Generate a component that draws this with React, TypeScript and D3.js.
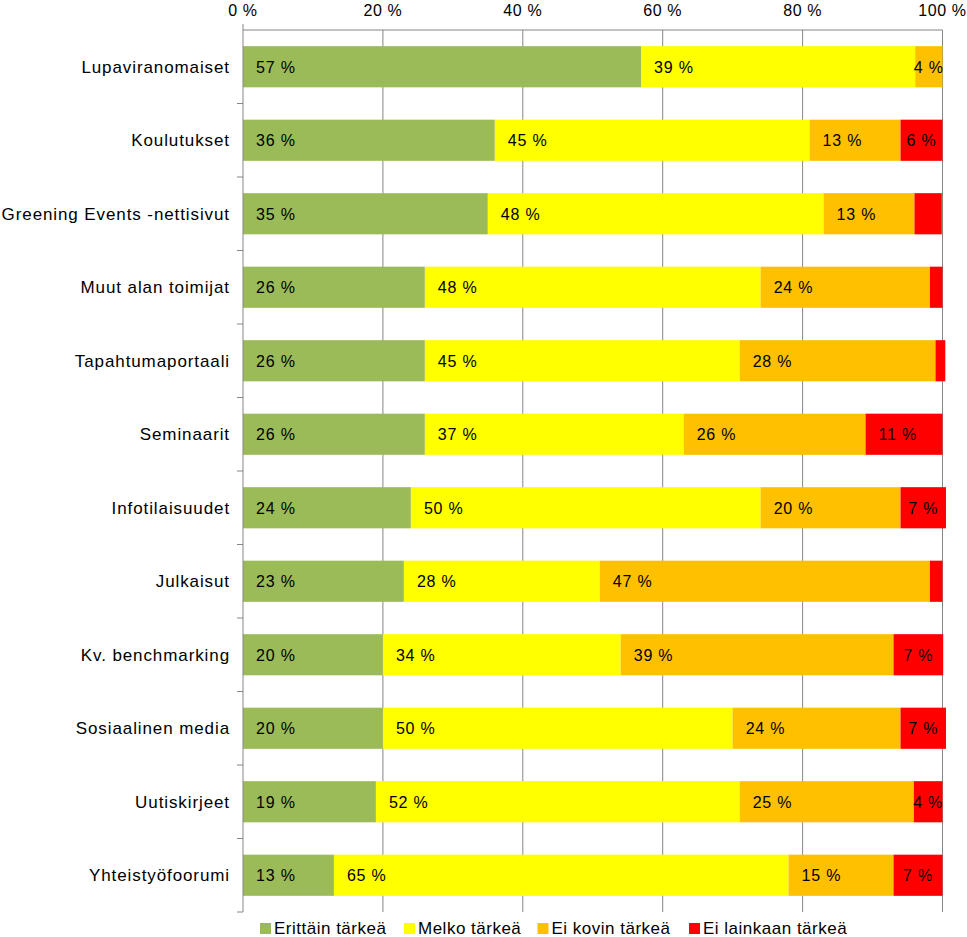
import React from "react";
import * as d3 from "d3";

const categories = [
  "Lupaviranomaiset",
  "Koulutukset",
  "Greening Events -nettisivut",
  "Muut alan toimijat",
  "Tapahtumaportaali",
  "Seminaarit",
  "Infotilaisuudet",
  "Julkaisut",
  "Kv. benchmarking",
  "Sosiaalinen media",
  "Uutiskirjeet",
  "Yhteistyöfoorumi",
];

const seriesNames = ["Erittäin tärkeä", "Melko tärkeä", "Ei kovin tärkeä", "Ei lainkaan tärkeä"];
const erittain = [56.9, 36.0, 35.0, 26.0, 26.0, 26.0, 24.0, 23.0, 20.0, 20.0, 19.0, 13.0];
const melko = [39.2, 45.0, 48.0, 48.0, 45.0, 37.0, 50.0, 28.0, 34.0, 50.0, 52.0, 65.0];
const eiKovin = [3.9, 13.0, 13.0, 24.2, 28.0, 26.0, 20.0, 47.2, 39.0, 24.0, 24.9, 15.0];
const eiLainkaan = [0, 6.0, 3.9, 1.8, 1.4, 11.0, 6.5, 1.8, 7.1, 6.5, 4.1, 7.0];
// segments shown without a value label: [row, series]
const unlabeled: [number, number][] = [[2, 3], [3, 3], [4, 3], [7, 3]];

const xTicks = [0, 20, 40, 60, 80, 100];
const colors = ["#9BBB59", "#FFFF00", "#FFC000", "#FF0000"];

const W = 967;
const H = 937;
const left = 243;
const right = 942.5;
const top = 30;
const bottom = 912;
const FONT = "'Liberation Sans', Arial, sans-serif";

let ctx: CanvasRenderingContext2D | null = null;
function measure(text: string, size: number, ls: number) {
  if (!ctx) {
    const c = document.createElement("canvas");
    ctx = c.getContext("2d");
  }
  if (!ctx) return text.length * size * 0.55;
  ctx.font = `${size}px 'Liberation Sans'`;
  return ctx.measureText(text).width + ls * text.length;
}

export default function App() {
  const x = d3.scaleLinear().domain([0, 100]).range([left, right]);
  const y = d3
    .scaleBand<string>()
    .domain(categories)
    .range([top, bottom])
    .paddingInner(0.44)
    .paddingOuter(0.22);
  const step = y.step();
  const series = [erittain, melko, eiKovin, eiLainkaan];

  const rows = categories.map((c, i) => {
    const vals = series.map((s) => s[i]);
    let acc = 0;
    return vals.map((v, k) => {
      const seg = { x0: acc, x1: acc + v, v, k, c, i };
      acc += v;
      return seg;
    });
  });

  const boundaries = d3.range(1, categories.length + 1).map((i) => top + i * step);

  const legendX = [260, 404, 537.5, 689];

  return (
    <svg
      width={W}
      height={H}
      style={{ position: "fixed", top: 0, left: 0, background: "#fff" }}
      fontFamily={FONT}
    >
      <rect width={W} height={H} fill="#fff" />
      {/* gridlines */}
      {xTicks.slice(1).map((t) => (
        <line key={t} x1={x(t)} x2={x(t)} y1={top} y2={bottom} stroke="#868686" strokeWidth={1} />
      ))}
      {/* top axis */}
      <line x1={left} x2={right} y1={top} y2={top} stroke="#868686" strokeWidth={1} />
      {xTicks.map((t) => (
        <text
          key={t}
          x={x(t)}
          y={16}
          textAnchor="middle"
          fontSize={16}
          letterSpacing={0.6}
          fill="#000"
        >
          {`${t} %`}
        </text>
      ))}
      {/* bars */}
      {rows.map((segs) =>
        segs.map((s) =>
          s.v > 0 ? (
            <rect
              key={`${s.i}-${s.k}`}
              x={x(s.x0)}
              width={x(s.x1) - x(s.x0)}
              y={y(s.c)!}
              height={y.bandwidth()}
              fill={colors[s.k]}
            />
          ) : null
        )
      )}
      {/* data labels */}
      {rows.map((segs) =>
        segs.map((s) => {
          if (s.v <= 0) return null;
          if (unlabeled.some(([r, k]) => r === s.i && k === s.k)) return null;
          const label = `${Math.round(s.v)} %`;
          const tw = measure(label, 16, 0.8);
          const w = x(s.x1) - x(s.x0);
          const off = Math.min(13, (w - tw) / 2);
          return (
            <text
              key={`l${s.i}-${s.k}`}
              x={x(s.x0) + off}
              y={y(s.c)! + y.bandwidth() / 2 + 6}
              fontSize={16}
              letterSpacing={0.8}
              fill="#000"
            >
              {label}
            </text>
          );
        })
      )}
      {/* left axis */}
      <line x1={left} x2={left} y1={24} y2={bottom} stroke="#868686" strokeWidth={1} />
      {boundaries.map((b, i) => (
        <line key={i} x1={237} x2={left} y1={b} y2={b} stroke="#868686" strokeWidth={1} />
      ))}
      {categories.map((c) => (
        <text
          key={c}
          x={230}
          y={y(c)! + y.bandwidth() / 2 + 6}
          textAnchor="end"
          fontSize={17}
          letterSpacing={0.9}
          fill="#000"
        >
          {c}
        </text>
      ))}
      {/* legend */}
      {seriesNames.map((n, k) => (
        <g key={n}>
          <rect x={legendX[k]} y={923} width={11} height={11} fill={colors[k]} />
          <text x={legendX[k] + 14} y={934} fontSize={17} letterSpacing={0.5} fill="#000">
            {n}
          </text>
        </g>
      ))}
    </svg>
  );
}
